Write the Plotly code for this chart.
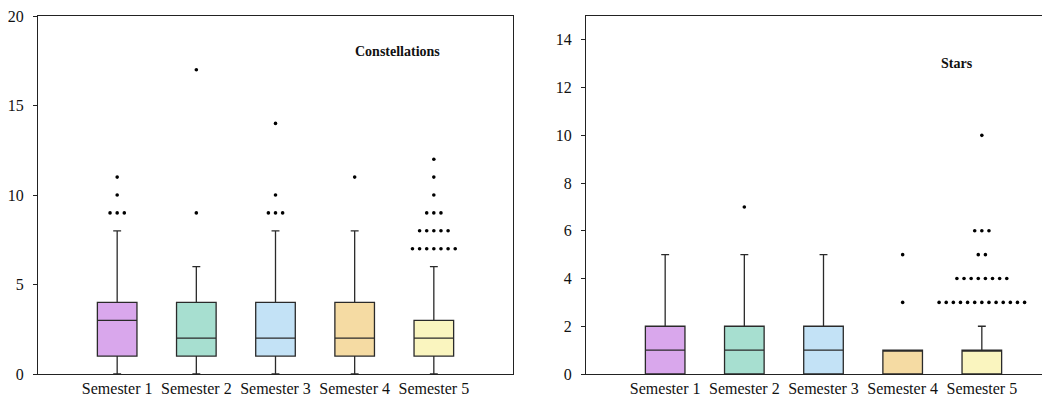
import plotly.graph_objects as go

semesters = ["Semester 1", "Semester 2", "Semester 3", "Semester 4", "Semester 5"]
colors = ["#D9A7EC", "#A7DFD0", "#C3E2F6", "#F5DBA3", "#FAF5BF"]

# Constellations
const_q1 = [1, 1, 1, 1, 1]
const_med = [3, 2, 2, 2, 2]
const_q3 = [4, 4, 4, 4, 3]
const_lo = [0, 0, 0, 0, 0]
const_hi = [8, 6, 8, 8, 6]
const_out = [
    [9, 9, 9, 10, 11],
    [9, 17],
    [9, 9, 9, 10, 14],
    [11],
    [7, 7, 7, 7, 7, 7, 7, 8, 8, 8, 8, 8, 9, 9, 9, 10, 11, 12],
]

# Stars
stars_q1 = [0, 0, 0, 0, 0]
stars_med = [1, 1, 1, 1, 1]
stars_q3 = [2, 2, 2, 1, 1]
stars_lo = [0, 0, 0, 0, 0]
stars_hi = [5, 5, 5, 1, 2]
stars_out = [
    [],
    [7],
    [],
    [3, 5],
    [3, 3, 3, 3, 3, 3, 3, 3, 3, 3, 3, 3, 3, 4, 4, 4, 4, 4, 4, 4, 4, 5, 5, 6, 6, 6, 10],
]

FONT = "Liberation Serif, Times New Roman, serif"
DOT_GAP = 0.09

fig = go.Figure()


def add_panel(q1, med, q3, lo, hi, outs, xa, ya):
    for i, name in enumerate(semesters):
        xpos = i + 1
        fig.add_trace(go.Box(
            x=[xpos], q1=[q1[i]], median=[med[i]], q3=[q3[i]],
            lowerfence=[lo[i]], upperfence=[hi[i]],
            boxpoints=False, width=0.5, whiskerwidth=0.2,
            fillcolor=colors[i], line=dict(color="#2a2a2a", width=1.3),
            showlegend=False, xaxis=xa, yaxis=ya, hoverinfo="skip",
        ))
        # spread duplicate outliers horizontally
        counts = {}
        for v in outs[i]:
            counts[v] = counts.get(v, 0) + 1
        xs, ys = [], []
        for v, n in counts.items():
            for k in range(n):
                xs.append(xpos + (k - (n - 1) / 2) * DOT_GAP)
                ys.append(v)
        if xs:
            fig.add_trace(go.Scatter(
                x=xs, y=ys, mode="markers",
                marker=dict(color="black", size=3.6),
                showlegend=False, xaxis=xa, yaxis=ya, hoverinfo="skip",
            ))


add_panel(const_q1, const_med, const_q3, const_lo, const_hi, const_out, "x", "y")
add_panel(stars_q1, stars_med, stars_q3, stars_lo, stars_hi, stars_out, "x2", "y2")

W = 1050
OFF = 8  # page body margin offset
px_per_unit = (513 - 38) / 6.0

axis_common = dict(
    showgrid=False, zeroline=False, showline=True, linecolor="#222", linewidth=1,
    tickfont=dict(family=FONT, size=16, color="#111"),
)

fig.update_layout(
    width=1050, height=400,
    margin=dict(l=0, r=0, t=16 - OFF, b=26 + OFF),
    paper_bgcolor="white", plot_bgcolor="white",
    font=dict(family=FONT),
    xaxis=dict(domain=[(38 - OFF) / W, (513 - OFF) / W], range=[0, 6], tickvals=[1, 2, 3, 4, 5],
               ticktext=semesters, ticks="", mirror=True, anchor="y", **axis_common),
    yaxis=dict(domain=[0, 1], range=[0, 20], tickvals=[0, 5, 10, 15, 20],
               ticks="outside", ticklen=4, tickcolor="#222", mirror=True,
               ticklabelstandoff=6, ticklabeloverflow="allow", anchor="x", **axis_common),
    xaxis2=dict(domain=[(586 - OFF) / W, 1.0], range=[0, (W - (586 - OFF)) / px_per_unit],
                tickvals=[1, 2, 3, 4, 5], ticktext=semesters, ticks="", mirror=True,
                anchor="y2", **axis_common),
    yaxis2=dict(domain=[0, 1], range=[0, 15], tickvals=[0, 2, 4, 6, 8, 10, 12, 14],
                ticks="outside", ticklen=4, tickcolor="#222", mirror=False,
                ticklabelstandoff=6, ticklabeloverflow="allow", anchor="x2", **axis_common),
    annotations=[
        dict(x=4.54, y=18.0, xref="x", yref="y", text="<b>Constellations</b>",
             showarrow=False, font=dict(family=FONT, size=14, color="#111")),
        dict(x=4.68, y=13.0, xref="x2", yref="y2", text="<b>Stars</b>",
             showarrow=False, font=dict(family=FONT, size=14, color="#111")),
    ],
)

fig.write_html("out.html")
